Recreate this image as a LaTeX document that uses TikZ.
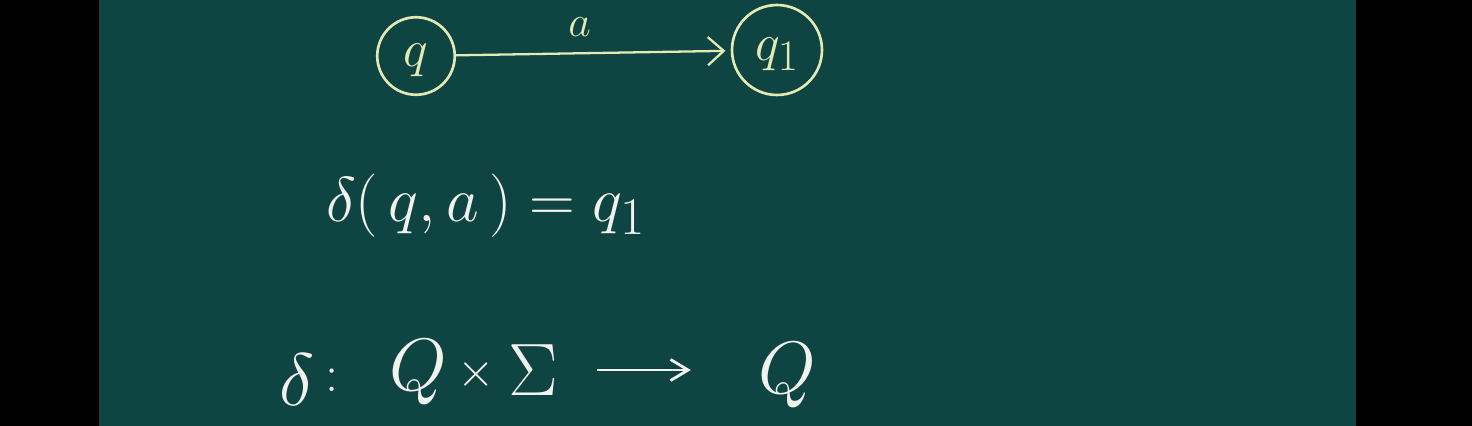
\documentclass[tikz,border=0pt]{standalone}
\usetikzlibrary{positioning,arrows.meta}

\definecolor{board}{HTML}{0E4543}
\definecolor{chalk}{HTML}{F2F2EE}
\definecolor{pale}{HTML}{E4EAB4}

\tikzset{
  state/.style={circle,draw=pale,line width=1.5pt,text=pale,inner sep=0pt},
  statetext/.style={scale=1.2,transform shape,font=\Huge},
  trans/.style={draw=pale,line width=1.3pt,
    -{Straight Barb[length=9pt,width=16pt,line width=1.3pt]}},
  chalktext/.style={text=chalk,inner sep=0pt,font=\Huge},
  maparrow/.style={draw=chalk,line width=1.6pt,
    -{Straight Barb[length=10pt,width=12pt,line width=1.6pt]}},
}

\begin{document}
\begin{tikzpicture}[x=0.02cm,y=-0.02cm]
% board and black margins
\fill[black] (0,0) rectangle (1472,426);
\fill[board] (99,0) rectangle (1356,426);

% the transition
\node[state,minimum size=1.55cm] (q) at (416,56) {};
\node[statetext,text=pale] (qt) at (416,60) {$q$};
\node[state,minimum size=1.8cm] (q1) at (777,50) {};
\node[statetext,text=pale] (q1t) at (777,54) {$q_1$};
\draw[trans,shorten >=3pt] (q) -- node[pos=0.45,above=9pt,text=pale,inner sep=0pt,
  font=\Huge] (lbl) {$a$} (q1);

% delta applied
\node[chalktext,scale=1.45,transform shape] (apply) at (486,206)
  {$\delta(\,q,a\,) = q_1$};

% delta as a map
\node[chalktext,scale=1.7,transform shape] (delta) at (297,380) {$\delta$};
\node[chalktext,scale=1.2,transform shape] (colon) at (332,380) {$:$};
\node[chalktext,scale=1.7,transform shape] (dom) at (418,372) {$Q$};
\node[chalktext,scale=1.1,transform shape] (times) at (476,374) {$\times$};
\node[chalktext,scale=1.7,transform shape] (sig) at (533,370) {$\Sigma$};
\node[chalktext,scale=1.7,transform shape] (cod) at (787,375) {$Q$};
\draw[maparrow,shorten <=22pt,shorten >=38pt] (sig.east) -- (sig.east -| cod.west);
\end{tikzpicture}
\end{document}
